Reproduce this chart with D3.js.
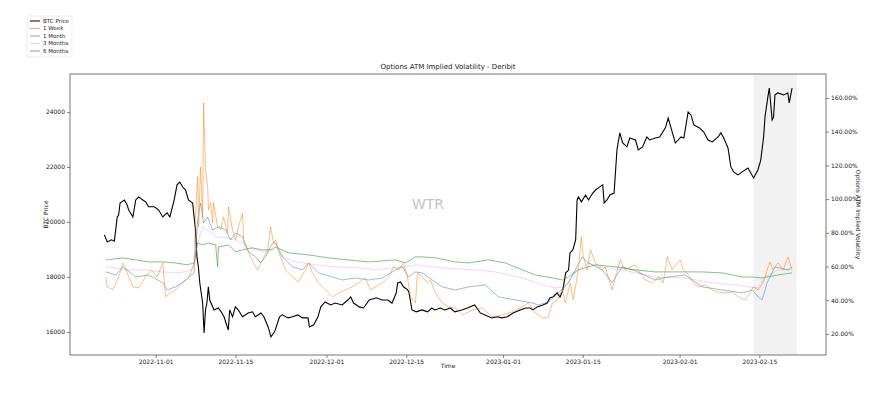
<!DOCTYPE html>
<html>
<head>
<meta charset="utf-8">
<script src="https://cdn.jsdelivr.net/npm/d3@7"></script>
<style>
  body { margin: 0; background: #fff; }
  text { font-family: "DejaVu Sans", sans-serif; fill: #222; }
</style>
</head>
<body>
<div id="chart"></div>
<script>
"use strict";

// BTC price (left axis)
var btcPrice = [
  ["2022-10-23 00", 19530], ["2022-10-23 12", 19270], ["2022-10-24 06", 19350], ["2022-10-24 18", 19300],
  ["2022-10-25 06", 20180], ["2022-10-25 12", 20250], ["2022-10-25 18", 20690], ["2022-10-26 12", 20800],
  ["2022-10-27 00", 20620], ["2022-10-27 06", 20440], ["2022-10-28 00", 20180], ["2022-10-28 12", 20800],
  ["2022-10-29 00", 20910], ["2022-10-29 18", 20800], ["2022-10-30 06", 20730], ["2022-10-30 18", 20550],
  ["2022-10-31 18", 20550], ["2022-11-01 12", 20440], ["2022-11-02 06", 20180], ["2022-11-03 00", 20330],
  ["2022-11-03 12", 20180], ["2022-11-04 06", 20800], ["2022-11-04 18", 21350], ["2022-11-05 06", 21450],
  ["2022-11-05 18", 21270], ["2022-11-06 06", 21160], ["2022-11-06 18", 20800], ["2022-11-07 12", 20690],
  ["2022-11-07 18", 20180], ["2022-11-08 00", 19710], ["2022-11-08 06", 18730], ["2022-11-08 12", 18360],
  ["2022-11-08 18", 17780], ["2022-11-09 06", 17050], ["2022-11-09 12", 15960], ["2022-11-09 18", 16800],
  ["2022-11-10 00", 17050], ["2022-11-10 06", 17640], ["2022-11-10 12", 17160], ["2022-11-11 06", 16800],
  ["2022-11-12 00", 16870], ["2022-11-12 12", 16730], ["2022-11-13 00", 16550], ["2022-11-13 18", 16070],
  ["2022-11-14 00", 16800], ["2022-11-14 12", 16550], ["2022-11-15 00", 16910], ["2022-11-15 12", 16800],
  ["2022-11-16 06", 16550], ["2022-11-17 06", 16690], ["2022-11-18 00", 16730], ["2022-11-18 12", 16550],
  ["2022-11-19 12", 16690], ["2022-11-20 00", 16550], ["2022-11-20 18", 16180], ["2022-11-21 06", 15820],
  ["2022-11-21 18", 15960], ["2022-11-22 00", 16070], ["2022-11-22 18", 16550], ["2022-11-23 06", 16620],
  ["2022-11-24 06", 16510], ["2022-11-25 00", 16550], ["2022-11-26 00", 16620], ["2022-11-26 18", 16510],
  ["2022-11-27 18", 16510], ["2022-11-28 00", 16180], ["2022-11-28 18", 16260], ["2022-11-29 12", 16550],
  ["2022-11-30 00", 16910], ["2022-11-30 18", 17090], ["2022-12-01 18", 16980], ["2022-12-02 12", 17050],
  ["2022-12-03 18", 16980], ["2022-12-04 18", 17160], ["2022-12-05 06", 17270], ["2022-12-05 18", 17050],
  ["2022-12-06 18", 16910], ["2022-12-07 12", 16870], ["2022-12-08 12", 17160], ["2022-12-09 18", 17240],
  ["2022-12-10 18", 17160], ["2022-12-11 18", 17160], ["2022-12-12 12", 17050], ["2022-12-13 06", 17420],
  ["2022-12-13 12", 17780], ["2022-12-14 00", 17820], ["2022-12-14 12", 17640], ["2022-12-15 06", 17530],
  ["2022-12-15 12", 17420], ["2022-12-16 00", 16800], ["2022-12-16 18", 16730], ["2022-12-17 18", 16800],
  ["2022-12-18 18", 16730], ["2022-12-19 12", 16870], ["2022-12-20 00", 16800], ["2022-12-21 00", 16870],
  ["2022-12-21 18", 16800], ["2022-12-22 18", 16870], ["2022-12-23 12", 16730], ["2022-12-24 18", 16800],
  ["2022-12-25 18", 16870], ["2022-12-27 00", 16980], ["2022-12-28 00", 16690], ["2022-12-28 18", 16620],
  ["2022-12-30 00", 16510], ["2022-12-31 00", 16550], ["2022-12-31 18", 16510], ["2023-01-01 18", 16550],
  ["2023-01-02 18", 16690], ["2023-01-04 00", 16800], ["2023-01-05 00", 16870], ["2023-01-05 18", 16870],
  ["2023-01-06 06", 16800], ["2023-01-07 00", 16910], ["2023-01-08 00", 16980], ["2023-01-08 18", 17050],
  ["2023-01-09 06", 17240], ["2023-01-09 18", 17270], ["2023-01-10 12", 17420], ["2023-01-11 00", 17270],
  ["2023-01-11 12", 17530], ["2023-01-12 00", 18150], ["2023-01-12 12", 18250], ["2023-01-12 18", 18870],
  ["2023-01-13 06", 18980], ["2023-01-13 18", 19350], ["2023-01-14 00", 20800], ["2023-01-14 06", 20910],
  ["2023-01-14 18", 20730], ["2023-01-15 12", 20980], ["2023-01-16 00", 20800], ["2023-01-16 18", 21050],
  ["2023-01-17 06", 21160], ["2023-01-17 18", 21240], ["2023-01-18 12", 21350], ["2023-01-18 18", 20690],
  ["2023-01-19 06", 20800], ["2023-01-19 18", 20980], ["2023-01-20 12", 21050], ["2023-01-21 00", 22620],
  ["2023-01-21 12", 23240], ["2023-01-22 00", 22870], ["2023-01-22 18", 22730], ["2023-01-23 06", 23050],
  ["2023-01-24 06", 22980], ["2023-01-24 18", 22620], ["2023-01-25 12", 22730], ["2023-01-26 06", 23090],
  ["2023-01-26 18", 22980], ["2023-01-27 18", 23050], ["2023-01-28 12", 23090], ["2023-01-29 12", 23420],
  ["2023-01-30 00", 23780], ["2023-01-30 18", 23240], ["2023-01-31 06", 22870], ["2023-02-01 06", 23090],
  ["2023-02-01 18", 23050], ["2023-02-02 12", 24000], ["2023-02-03 00", 23890], ["2023-02-03 12", 23530],
  ["2023-02-04 12", 23420], ["2023-02-05 06", 23270], ["2023-02-06 00", 22980], ["2023-02-06 18", 22910],
  ["2023-02-07 18", 23090], ["2023-02-08 06", 23240], ["2023-02-08 18", 23050], ["2023-02-09 12", 22690],
  ["2023-02-10 00", 22000], ["2023-02-10 12", 21820], ["2023-02-11 06", 21710], ["2023-02-12 00", 21820],
  ["2023-02-13 00", 21960], ["2023-02-13 12", 21780], ["2023-02-14 00", 21600], ["2023-02-14 18", 21890],
  ["2023-02-15 06", 22250], ["2023-02-15 18", 23090], ["2023-02-16 00", 23820], ["2023-02-16 12", 24550],
  ["2023-02-16 18", 24870], ["2023-02-17 06", 23710], ["2023-02-17 12", 23820], ["2023-02-17 18", 24620],
  ["2023-02-18 06", 24690], ["2023-02-19 06", 24620], ["2023-02-20 00", 24690], ["2023-02-20 06", 24330],
  ["2023-02-20 18", 24870]
];

// ATM implied volatility, % (right axis)
var iv1Week = [
  ["2022-10-23 06", 53.8], ["2022-10-23 12", 47.9], ["2022-10-24 12", 46.1], ["2022-10-25 12", 53.8],
  ["2022-10-26 06", 62.1], ["2022-10-27 00", 56.2], ["2022-10-28 00", 47.9], ["2022-10-29 00", 47.3],
  ["2022-10-30 06", 53.8], ["2022-10-31 06", 58.0], ["2022-11-01 06", 53.8], ["2022-11-02 06", 62.1],
  ["2022-11-02 18", 42.0], ["2022-11-03 12", 44.3], ["2022-11-04 12", 46.1], ["2022-11-05 18", 50.3],
  ["2022-11-06 18", 53.2], ["2022-11-07 18", 62.1], ["2022-11-08 00", 90.6], ["2022-11-08 09", 113.2],
  ["2022-11-08 13", 83.5], ["2022-11-08 21", 119.1], ["2022-11-09 06", 89.4], ["2022-11-09 10", 157.1],
  ["2022-11-09 18", 117.3], ["2022-11-10 03", 107.2], ["2022-11-10 07", 93.6], ["2022-11-10 16", 97.7],
  ["2022-11-11 00", 85.9], ["2022-11-11 04", 97.7], ["2022-11-11 21", 83.5], ["2022-11-12 10", 81.7],
  ["2022-11-12 22", 89.4], ["2022-11-13 15", 79.9], ["2022-11-13 19", 95.4], ["2022-11-14 12", 81.7],
  ["2022-11-15 01", 75.8], ["2022-11-15 13", 83.5], ["2022-11-16 06", 91.8], ["2022-11-16 11", 74.0],
  ["2022-11-17 08", 68.1], ["2022-11-18 05", 62.1], ["2022-11-18 21", 58.0], ["2022-11-19 18", 63.9],
  ["2022-11-20 16", 69.9], ["2022-11-21 04", 83.5], ["2022-11-21 17", 74.0], ["2022-11-22 01", 75.8],
  ["2022-11-22 22", 65.7], ["2022-11-23 19", 58.0], ["2022-11-25 01", 53.8], ["2022-11-26 02", 50.9],
  ["2022-11-27 08", 58.0], ["2022-11-27 20", 62.1], ["2022-11-28 13", 56.2], ["2022-11-29 14", 50.3],
  ["2022-11-30 20", 46.1], ["2022-12-02 01", 42.0], ["2022-12-03 03", 44.3], ["2022-12-04 08", 46.1],
  ["2022-12-05 13", 47.9], ["2022-12-06 15", 50.3], ["2022-12-07 20", 53.2], ["2022-12-08 17", 46.1],
  ["2022-12-09 14", 47.9], ["2022-12-10 20", 50.3], ["2022-12-11 21", 53.8], ["2022-12-12 18", 59.8],
  ["2022-12-13 15", 58.0], ["2022-12-14 12", 62.1], ["2022-12-15 05", 53.8], ["2022-12-15 18", 42.0],
  ["2022-12-16 15", 38.4], ["2022-12-16 23", 56.2], ["2022-12-17 20", 53.8], ["2022-12-18 17", 50.3],
  ["2022-12-19 06", 52.0], ["2022-12-20 03", 44.3], ["2022-12-21 08", 38.4], ["2022-12-22 10", 36.0],
  ["2022-12-23 15", 35.4], ["2022-12-24 21", 31.3], ["2022-12-26 15", 34.2], ["2022-12-28 09", 35.4],
  ["2022-12-30 03", 30.1], ["2022-12-31 21", 31.3], ["2023-01-02 15", 33.1], ["2023-01-04 09", 36.0],
  ["2023-01-05 11", 38.4], ["2023-01-06 16", 32.5], ["2023-01-07 21", 29.5], ["2023-01-08 23", 30.1],
  ["2023-01-09 16", 38.4], ["2023-01-10 13", 40.2], ["2023-01-11 10", 46.1], ["2023-01-11 22", 38.4],
  ["2023-01-12 19", 50.3], ["2023-01-13 08", 40.2], ["2023-01-14 05", 58.0], ["2023-01-14 18", 77.6],
  ["2023-01-15 02", 65.7], ["2023-01-15 19", 58.0], ["2023-01-16 08", 69.9], ["2023-01-17 05", 62.1],
  ["2023-01-18 10", 58.0], ["2023-01-18 23", 59.8], ["2023-01-19 11", 53.8], ["2023-01-20 04", 46.1],
  ["2023-01-20 17", 53.8], ["2023-01-21 14", 63.9], ["2023-01-22 11", 58.0], ["2023-01-23 08", 59.8],
  ["2023-01-24 05", 61.0], ["2023-01-25 02", 56.2], ["2023-01-25 23", 52.0], ["2023-01-27 05", 50.3],
  ["2023-01-28 06", 53.8], ["2023-01-29 03", 50.3], ["2023-01-29 20", 65.7], ["2023-01-30 17", 58.0],
  ["2023-01-31 14", 62.1], ["2023-02-01 03", 63.9], ["2023-02-01 15", 58.0], ["2023-02-02 08", 56.2],
  ["2023-02-03 09", 50.3], ["2023-02-04 06", 47.9], ["2023-02-05 12", 49.1], ["2023-02-06 17", 46.1],
  ["2023-02-07 18", 44.9], ["2023-02-09 00", 44.3], ["2023-02-10 06", 44.9], ["2023-02-11 07", 42.0],
  ["2023-02-12 12", 40.2], ["2023-02-13 09", 44.3], ["2023-02-13 22", 47.9], ["2023-02-14 19", 46.1],
  ["2023-02-15 16", 50.3], ["2023-02-16 09", 58.0], ["2023-02-16 21", 62.7], ["2023-02-17 10", 58.0],
  ["2023-02-18 07", 62.1], ["2023-02-19 04", 58.0], ["2023-02-20 01", 65.7], ["2023-02-20 18", 58.0]
];

var iv1Month = [
  ["2022-10-23 06", 56.8], ["2022-10-25 00", 55.0], ["2022-10-26 06", 59.8], ["2022-10-28 12", 53.8],
  ["2022-10-30 18", 55.0], ["2022-11-02 06", 50.3], ["2022-11-03 00", 46.1], ["2022-11-04 12", 47.9],
  ["2022-11-06 06", 52.0], ["2022-11-07 18", 56.2], ["2022-11-08 09", 87.7], ["2022-11-08 21", 97.7],
  ["2022-11-09 10", 85.9], ["2022-11-10 03", 89.4], ["2022-11-11 00", 81.7], ["2022-11-12 01", 83.5],
  ["2022-11-13 07", 81.7], ["2022-11-14 04", 75.8], ["2022-11-15 01", 79.9], ["2022-11-16 06", 77.6],
  ["2022-11-17 08", 68.7], ["2022-11-18 13", 65.7], ["2022-11-19 10", 62.1], ["2022-11-20 07", 65.7],
  ["2022-11-21 13", 74.0], ["2022-11-22 01", 74.0], ["2022-11-23 07", 65.7], ["2022-11-25 01", 59.8],
  ["2022-11-26 19", 58.0], ["2022-11-27 20", 62.1], ["2022-11-29 14", 56.2], ["2022-12-02 01", 53.8],
  ["2022-12-03 19", 52.0], ["2022-12-06 02", 53.2], ["2022-12-08 09", 52.0], ["2022-12-10 20", 53.2],
  ["2022-12-13 03", 58.0], ["2022-12-14 08", 59.8], ["2022-12-15 09", 53.8], ["2022-12-16 15", 56.8],
  ["2022-12-17 20", 56.2], ["2022-12-19 14", 52.0], ["2022-12-21 08", 47.9], ["2022-12-23 15", 46.1],
  ["2022-12-25 22", 47.9], ["2022-12-28 21", 49.1], ["2022-12-31 04", 42.0], ["2023-01-03 04", 40.2],
  ["2023-01-06 03", 38.4], ["2023-01-07 05", 37.2], ["2023-01-08 23", 39.0], ["2023-01-10 17", 44.3],
  ["2023-01-12 11", 50.3], ["2023-01-14 22", 65.7], ["2023-01-15 23", 62.1], ["2023-01-18 10", 58.0],
  ["2023-01-20 04", 50.3], ["2023-01-21 22", 59.8], ["2023-01-24 05", 57.4], ["2023-01-27 17", 52.0],
  ["2023-01-30 00", 53.8], ["2023-02-01 23", 55.0], ["2023-02-04 23", 47.9], ["2023-02-08 11", 46.1],
  ["2023-02-11 23", 44.3], ["2023-02-13 18", 46.1], ["2023-02-14 19", 42.0], ["2023-02-15 12", 40.2],
  ["2023-02-16 09", 50.3], ["2023-02-17 18", 59.8], ["2023-02-20 01", 58.0], ["2023-02-20 18", 59.8]
];

var iv3Months = [
  ["2022-10-23 06", 59.8], ["2022-10-27 06", 58.0], ["2022-10-30 06", 58.0], ["2022-11-02 06", 56.8],
  ["2022-11-05 00", 56.2], ["2022-11-07 12", 58.0], ["2022-11-08 09", 74.0], ["2022-11-09 06", 83.5],
  ["2022-11-11 13", 77.6], ["2022-11-13 19", 77.0], ["2022-11-16 06", 74.0], ["2022-11-18 13", 69.9],
  ["2022-11-20 07", 68.7], ["2022-11-22 01", 71.6], ["2022-11-23 07", 65.7], ["2022-11-25 13", 62.7],
  ["2022-11-29 02", 61.0], ["2022-12-02 14", 59.8], ["2022-12-06 15", 59.2], ["2022-12-09 14", 58.0],
  ["2022-12-12 14", 59.2], ["2022-12-14 08", 59.8], ["2022-12-16 15", 61.0], ["2022-12-19 14", 59.8],
  ["2022-12-23 15", 58.6], ["2022-12-27 03", 58.0], ["2022-12-30 16", 56.8], ["2023-01-04 09", 53.2],
  ["2023-01-07 21", 49.1], ["2023-01-10 04", 47.3], ["2023-01-11 22", 47.9], ["2023-01-13 16", 56.2],
  ["2023-01-15 23", 62.1], ["2023-01-18 23", 59.2], ["2023-01-21 22", 58.0], ["2023-01-24 05", 56.2],
  ["2023-01-27 17", 53.8], ["2023-02-01 23", 53.2], ["2023-02-06 17", 50.3], ["2023-02-10 18", 49.1],
  ["2023-02-13 01", 47.9], ["2023-02-14 19", 47.3], ["2023-02-16 00", 53.8], ["2023-02-18 07", 58.0],
  ["2023-02-20 18", 58.0]
];

var iv6Months = [
  ["2022-10-23 06", 63.9], ["2022-10-26 06", 65.1], ["2022-10-28 12", 63.9], ["2022-10-30 18", 62.7],
  ["2022-11-02 06", 62.7], ["2022-11-04 12", 62.1], ["2022-11-06 12", 61.0], ["2022-11-07 18", 62.1],
  ["2022-11-08 09", 74.0], ["2022-11-09 06", 72.8], ["2022-11-10 07", 74.0], ["2022-11-11 13", 72.8],
  ["2022-11-11 21", 59.8], ["2022-11-12 01", 71.6], ["2022-11-13 19", 72.8], ["2022-11-15 01", 68.7],
  ["2022-11-16 06", 69.9], ["2022-11-18 00", 71.0], ["2022-11-19 18", 69.9], ["2022-11-21 13", 69.9],
  ["2022-11-22 01", 71.6], ["2022-11-24 08", 68.1], ["2022-11-27 20", 66.9], ["2022-12-01 08", 65.1],
  ["2022-12-04 21", 63.9], ["2022-12-08 09", 62.7], ["2022-12-13 03", 63.9], ["2022-12-14 21", 62.1],
  ["2022-12-16 15", 65.7], ["2022-12-17 20", 65.7], ["2022-12-20 03", 65.1], ["2022-12-23 15", 62.7],
  ["2022-12-25 22", 62.1], ["2022-12-29 10", 63.9], ["2023-01-01 10", 62.1], ["2023-01-04 09", 58.0],
  ["2023-01-06 16", 55.0], ["2023-01-09 16", 53.2], ["2023-01-11 10", 52.0], ["2023-01-12 11", 53.8],
  ["2023-01-14 05", 58.0], ["2023-01-17 05", 61.0], ["2023-01-20 17", 59.8], ["2023-01-24 05", 58.0],
  ["2023-01-27 17", 56.8], ["2023-01-31 06", 56.8], ["2023-02-04 23", 56.8], ["2023-02-08 11", 56.2],
  ["2023-02-11 23", 53.8], ["2023-02-13 18", 53.8], ["2023-02-15 12", 53.2], ["2023-02-18 07", 55.0],
  ["2023-02-20 18", 56.2]
];

var seriesNames = ["BTC Price", "1 Week", "1 Month", "3 Months", "6 Months"];
var xTickDates = ["2022-11-01", "2022-11-15", "2022-12-01", "2022-12-15",
                  "2023-01-01", "2023-01-15", "2023-02-01", "2023-02-15"];
var priceTicks = [16000, 18000, 20000, 22000, 24000];
var volTicks = [20, 40, 60, 80, 100, 120, 140, 160];
var shadedSpan = ["2023-02-14 00", "2023-02-21 15"];

var width = 891;
var height = 396;
var margin = { top: 74, right: 65, bottom: 41, left: 70 };

var parseTime = d3.timeParse("%Y-%m-%d %H");
var parseDay = d3.timeParse("%Y-%m-%d");

var svg = d3.select("#chart")
  .append("svg")
  .attr("width", width)
  .attr("height", height);

svg.append("rect").attr("width", width).attr("height", height).attr("fill", "#fff");

var x = d3.scaleTime()
  .domain([parseTime("2022-10-16 23"), parseTime("2023-02-26 17")])
  .range([margin.left, width - margin.right]);

var yPrice = d3.scaleLinear()
  .domain([15160, 25380])
  .range([height - margin.bottom, margin.top]);

var yVol = d3.scaleLinear()
  .domain([7.5, 174.2])
  .range([height - margin.bottom, margin.top]);

// highlighted period
svg.append("rect")
  .attr("x", x(parseTime(shadedSpan[0])))
  .attr("y", margin.top)
  .attr("width", x(parseTime(shadedSpan[1])) - x(parseTime(shadedSpan[0])))
  .attr("height", height - margin.bottom - margin.top)
  .attr("fill", "#d9d9d9")
  .attr("opacity", 0.35);

// watermark
svg.append("text")
  .attr("x", 428)
  .attr("y", 209)
  .attr("text-anchor", "middle")
  .style("font-size", "14px")
  .style("fill", "#c4c4c4")
  .text("WTR");

var ivSeries = [
  { name: "1 Week", data: iv1Week, color: "#ff7f0e", opacity: 0.65 },
  { name: "1 Month", data: iv1Month, color: "#1f77b4", opacity: 0.6 },
  { name: "3 Months", data: iv3Months, color: "#e377c2", opacity: 0.4 },
  { name: "6 Months", data: iv6Months, color: "#2ca02c", opacity: 0.75 }
];

var volLine = d3.line()
  .x(d => x(parseTime(d[0])))
  .y(d => yVol(d[1]));

var priceLine = d3.line()
  .x(d => x(parseTime(d[0])))
  .y(d => yPrice(d[1]));

svg.append("path")
  .datum(btcPrice)
  .attr("d", priceLine)
  .attr("fill", "none")
  .attr("stroke", "#000")
  .attr("stroke-width", 1.1);

// draw in reverse so 1 Week ends up on top
ivSeries.slice().reverse().forEach(function(s) {
  svg.append("path")
    .datum(s.data)
    .attr("d", volLine)
    .attr("fill", "none")
    .attr("stroke", s.color)
    .attr("stroke-opacity", s.opacity)
    .attr("stroke-width", 0.8);
});

// axes
var xAxis = svg.append("g")
  .attr("transform", `translate(0,${height - margin.bottom})`)
  .call(d3.axisBottom(x)
    .tickValues(xTickDates.map(parseDay))
    .tickFormat(d3.timeFormat("%Y-%m-%d"))
    .tickSize(3)
    .tickPadding(2));

var leftAxis = svg.append("g")
  .attr("transform", `translate(${margin.left},0)`)
  .call(d3.axisLeft(yPrice)
    .tickValues(priceTicks)
    .tickFormat(d3.format("d"))
    .tickSize(3)
    .tickPadding(2));

var rightAxis = svg.append("g")
  .attr("transform", `translate(${width - margin.right},0)`)
  .call(d3.axisRight(yVol)
    .tickValues(volTicks)
    .tickFormat(d => d.toFixed(2) + "%")
    .tickSize(3)
    .tickPadding(2));

[xAxis, leftAxis, rightAxis].forEach(function(g) {
  g.select(".domain").remove();
  g.selectAll("line").attr("stroke", "#333").attr("stroke-width", 0.6);
  g.selectAll("text").style("font-size", "6px").style("font-family", "DejaVu Sans, sans-serif").attr("fill", "#333");
});

// frame
svg.append("rect")
  .attr("x", margin.left)
  .attr("y", margin.top)
  .attr("width", width - margin.left - margin.right)
  .attr("height", height - margin.top - margin.bottom)
  .attr("fill", "none")
  .attr("stroke", "#555")
  .attr("stroke-width", 0.8);

// titles
svg.append("text")
  .attr("x", (margin.left + width - margin.right) / 2)
  .attr("y", 69)
  .attr("text-anchor", "middle")
  .style("font-size", "7px")
  .text("Options ATM Implied Volatility - Deribit");

svg.append("text")
  .attr("x", (margin.left + width - margin.right) / 2)
  .attr("y", 368)
  .attr("text-anchor", "middle")
  .style("font-size", "6px")
  .text("Time");

svg.append("text")
  .attr("transform", `translate(48,${(margin.top + height - margin.bottom) / 2}) rotate(-90)`)
  .attr("text-anchor", "middle")
  .style("font-size", "6px")
  .text("BTC Price");

svg.append("text")
  .attr("transform", `translate(856,${(margin.top + height - margin.bottom) / 2}) rotate(90)`)
  .attr("text-anchor", "middle")
  .style("font-size", "6px")
  .text("Options ATM Implied Volatility");

// legend
var legendItems = [{ color: "#000", opacity: 1 }].concat(ivSeries)
  .map((s, i) => ({ name: seriesNames[i], color: s.color, opacity: s.opacity }));

var legend = svg.append("g").attr("transform", "translate(27,16)");

legend.append("rect")
  .attr("width", 45)
  .attr("height", 41)
  .attr("rx", 1.5)
  .attr("fill", "#fff")
  .attr("stroke", "#ddd")
  .attr("stroke-width", 0.6);

var item = legend.selectAll(".item")
  .data(legendItems)
  .join("g")
    .classed("item", true)
    .attr("transform", (d, i) => `translate(0,${5 + i * 7.5})`);

item.append("line")
  .attr("x1", 3).attr("x2", 13)
  .attr("stroke", d => d.color)
  .attr("stroke-opacity", d => d.opacity)
  .attr("stroke-width", 1);

item.append("text")
  .attr("x", 16)
  .attr("dy", "0.35em")
  .style("font-size", "5.5px")
  .text(d => d.name);
</script>
</body>
</html>
